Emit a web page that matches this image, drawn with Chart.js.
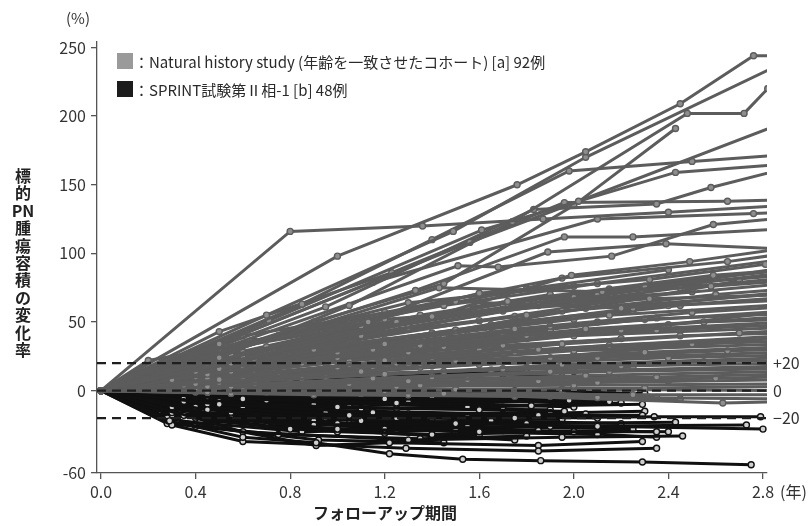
<!DOCTYPE html>
<html>
<head>
<meta charset="utf-8">
<script src="https://cdn.jsdelivr.net/npm/chart.js@4.4.1/dist/chart.umd.min.js"></script>
<style>
  html, body { margin: 0; padding: 0; background: #fff; }
  #wrap { width: 810px; height: 526px; }
</style>
</head>
<body>
<div id="wrap"><canvas id="c" width="810" height="526"></canvas></div>
<script>
// Axis ticks and labels
const xTicks = [0, 0.4, 0.8, 1.2, 1.6, 2.0, 2.4, 2.8];
const yTicks = [-60, 0, 50, 100, 150, 200, 250];
const refLevels = [20, 0, -20];
const refLabels = ['+20', '0', '\u221220'];
const legendLabels = [
  '：Natural history study (年齢を一致させたコホート) [a] 92例',
  '：SPRINT試験第Ⅱ相-1 [b] 48例'
];
const yTitleParts = ['標', '的', 'PN', '腫', '瘍', '容', '積', 'の', '変', '化', '率'];
const xTitle = 'フォローアップ期間';

// Natural history cohort: each patient as [year, % change, year, % change, ...]
const naturalHistory = [
  [0,0, 0.80,116, 1.36,120, 1.87,125, 2.40,130, 2.90,135],
  [0,0, 1.00,98, 1.76,150, 2.05,174, 2.45,209, 2.76,244, 2.90,244],
  [0,0, 0.70,55, 1.49,116, 2.05,170, 2.90,240],
  [0,0, 0.50,24, 1.05,62, 1.74,123, 2.48,202, 2.72,202, 2.82,220],
  [0,0, 0.50,34, 1.56,108, 2.02,138, 2.90,196],
  [0,0, 0.85,63, 1.40,110, 1.98,160, 2.50,167, 2.90,172],
  [0,0, 0.71,51, 1.61,117, 2.43,159, 2.90,165],
  [0,0, 0.95,61, 1.83,132, 2.35,136, 2.58,148, 2.90,162],
  [0,0, 0.50,43, 1.23,86, 1.96,137, 2.65,138, 2.90,139],
  [0,0, 1.15,79, 2.10,125, 2.76,129, 2.90,130],
  [0,0, 1.33,73, 1.96,112, 2.25,112, 2.90,118],
  [0,0, 1.51,91, 1.68,90, 2.16,98, 2.59,121, 2.90,126],
  [0,0, 0.20,22, 1.13,50, 1.89,101, 2.39,107, 2.90,103],
  [0,0, 1.40,54, 1.99,84, 2.49,94, 2.90,104],
  [0,0, 1.60,71, 2.32,81, 2.81,92, 2.90,95],
  [0,0, 1.72,65, 2.59,84, 2.90,88],
  [0,0, 1.43,75, 2.12,72, 2.58,76, 2.90,80],
  [0,0, 1.20,52, 2.32,67, 2.90,70],
  [0,0, 0.60,40, 1.50,65, 2.20,60, 2.90,72],
  [0,0, 0.90,50, 1.45,78, 2.00,135, 2.43,191],
  [0,0, 0.45,18, 1.10,40, 1.85,62, 2.90,90],
  [0,0, 0.55,20, 1.30,46, 2.10,70, 2.90,86],
  [0,0, 0.40,14, 0.95,36, 1.70,58, 2.45,75, 2.90,82],
  [0,0, 0.60,25, 1.25,50, 2.00,64, 2.90,78],
  [0,0, 0.35,15, 1.05,38, 1.80,55, 2.60,70, 2.90,74],
  [0,0, 0.50,16, 1.20,34, 1.95,58, 2.90,71],
  [0,0, 0.75,28, 1.50,44, 2.25,60, 2.90,68],
  [0,0, 0.30,8, 0.90,30, 1.65,48, 2.40,62, 2.90,66],
  [0,0, 0.65,22, 1.40,42, 2.15,55, 2.90,63],
  [0,0, 0.50,20, 1.00,28, 1.75,45, 2.50,57, 2.90,61],
  [0,0, 0.45,12, 1.15,30, 1.90,47, 2.90,58],
  [0,0, 0.80,26, 1.55,40, 2.30,52, 2.90,56],
  [0,0, 0.55,14, 1.35,33, 2.05,45, 2.90,54],
  [0,0, 0.40,10, 1.00,24, 1.80,40, 2.55,50, 2.90,52],
  [0,0, 0.70,18, 1.45,32, 2.20,44, 2.90,50],
  [0,0, 0.35,11, 0.85,20, 1.60,36, 2.35,44, 2.90,48],
  [0,0, 0.60,16, 1.30,28, 2.00,40, 2.90,46],
  [0,0, 0.50,8, 1.20,22, 1.95,34, 2.70,42, 2.90,44],
  [0,0, 0.90,22, 1.70,33, 2.45,40, 2.90,42],
  [0,0, 0.45,9, 1.05,19, 1.85,30, 2.90,40],
  [0,0, 0.65,12, 1.40,24, 2.15,33, 2.90,38],
  [0,0, 0.30,6, 1.00,17, 1.75,28, 2.50,34, 2.90,36],
  [0,0, 0.55,10, 1.25,20, 2.00,29, 2.90,34],
  [0,0, 0.75,13, 1.50,22, 2.30,28, 2.90,32],
  [0,0, 0.40,5, 1.10,14, 1.90,24, 2.65,29, 2.90,30],
  [0,0, 0.60,9, 1.35,17, 2.10,24, 2.90,28],
  [0,0, 0.85,11, 1.60,19, 2.40,24, 2.90,26],
  [0,0, 0.50,6, 1.20,12, 1.95,19, 2.90,24],
  [0,0, 0.35,4, 0.95,10, 1.70,16, 2.55,21, 2.90,22],
  [0,0, 0.70,8, 1.45,14, 2.20,18, 2.90,20],
  [0,0, 0.45,3, 1.15,9, 1.90,14, 2.90,18],
  [0,0, 0.65,5, 1.40,10, 2.15,14, 2.90,16],
  [0,0, 0.55,3, 1.30,7, 2.05,11, 2.90,14],
  [0,0, 0.80,6, 1.55,8, 2.35,10, 2.90,12],
  [0,0, 0.40,2, 1.05,5, 1.85,7, 2.60,9, 2.90,10],
  [0,0, 0.60,3, 1.35,4, 2.10,6, 2.90,8],
  [0,0, 0.50,1, 1.25,3, 2.00,4, 2.90,5],
  [0,0, 0.75,2, 1.50,1, 2.30,2, 2.90,3],
  [0,0, 0.45,-1, 1.20,0, 1.95,1, 2.90,0],
  [0,0, 0.65,0, 1.45,-2, 2.25,-3, 2.90,-3],
  [0,0, 0.55,-2, 1.30,-3, 2.10,-5, 2.90,-6],
  [0,0, 0.90,-3, 1.75,-4, 2.63,-9, 2.90,-8],
  [0,0, 0.40,-1, 1.10,-2, 1.90,-4, 2.45,-6],
  [0,0, 0.50,4, 1.20,2, 1.95,-2, 2.35,-5],
  [0,0, 0.45,10, 1.05,22, 1.70,35, 2.30,46],
  [0,0, 0.55,18, 1.20,30, 1.90,44],
  [0,0, 0.35,9, 0.95,20, 1.60,30, 2.20,38],
  [0,0, 0.60,14, 1.25,25, 1.85,32],
  [0,0, 0.50,6, 1.15,15, 1.80,21, 2.40,27],
  [0,0, 0.70,12, 1.40,18, 2.05,22],
  [0,0, 0.40,7, 1.00,12, 1.65,15, 2.25,17],
  [0,0, 0.55,4, 1.25,8, 1.95,10],
  [0,0, 0.45,2, 1.10,4, 1.75,6, 2.40,7],
  [0,0, 0.65,20, 1.30,38, 2.00,52],
  [0,0, 0.50,12, 1.10,28, 1.70,41, 2.35,53],
  [0,0, 0.30,10, 0.85,24, 1.45,39, 2.10,50],
  [0,0, 0.60,22, 1.20,37, 1.80,50, 2.45,62],
  [0,0, 0.40,16, 1.00,30, 1.65,46, 2.25,58],
  [0,0, 0.55,26, 1.15,42, 1.75,54],
  [0,0, 0.45,20, 1.05,36, 1.60,51, 2.20,66],
  [0,0, 0.70,32, 1.35,52, 2.00,68, 2.55,78],
  [0,0, 0.35,12, 0.90,26, 1.50,44, 2.05,60, 2.70,80],
  [0,0, 0.60,28, 1.25,47, 1.85,64, 2.50,72],
  [0,0, 0.50,30, 1.10,47, 1.70,63, 2.30,76, 2.90,84],
  [0,0, 0.40,21, 0.95,42, 1.55,60, 2.15,74, 2.90,88],
  [0,0, 0.75,40, 1.45,62, 2.10,78, 2.90,96],
  [0,0, 0.55,33, 1.20,57, 1.95,82, 2.65,94, 2.90,100],
  [0,0, 0.45,26, 1.05,50, 1.80,74, 2.40,88],
  [0,0, 0.65,36, 1.30,64, 2.00,76],
  [0,0, 0.25,16, 0.80,34, 1.35,55, 1.90,70],
  [0,0, 0.50,14, 1.15,26, 1.80,38, 2.40,48, 2.90,58],
  [0,0, 0.60,8, 1.30,18, 2.00,26, 2.70,36]
];

// SPRINT phase II stratum 1: each patient as [year, % change, ...]
const sprintPhase2 = [
  [0,0, 0.29,-22, 0.60,-34, 0.91,-38, 1.22,-46, 1.53,-50, 1.86,-51, 2.29,-52, 2.75,-54],
  [0,0, 0.30,-25, 0.60,-37, 1.29,-42, 1.85,-44, 2.35,-42],
  [0,0, 0.28,-20, 0.91,-40, 1.22,-38, 1.85,-40, 2.29,-37],
  [0,0, 0.60,-30, 1.30,-36, 1.95,-34, 2.46,-33],
  [0,0, 0.35,-18, 1.00,-28, 1.60,-30, 2.35,-30],
  [0,0, 0.30,-16, 0.90,-25, 1.50,-24, 2.10,-26, 2.80,-28],
  [0,0, 0.55,-20, 1.20,-28, 1.90,-26, 2.73,-25],
  [0,0, 0.45,-14, 1.10,-22, 1.80,-24, 2.43,-23],
  [0,0, 0.40,-12, 1.05,-18, 1.75,-20, 2.34,-19, 2.79,-19],
  [0,0, 0.50,-10, 1.15,-16, 1.85,-18, 2.29,-18],
  [0,0, 0.35,-8, 1.00,-12, 1.60,-14, 1.96,-15],
  [0,0, 0.60,-6, 1.25,-9, 1.82,-11],
  [0,0, 0.45,-4, 1.20,-6, 1.98,-7, 2.32,-5],
  [0,0, 0.50,-5, 1.30,-8, 2.15,-8],
  [0,0, 0.70,-7, 1.55,-12, 2.29,-10],
  [0,0, 0.30,-18, 0.80,-28, 1.40,-32, 2.00,-30],
  [0,0, 0.28,-24, 0.75,-32, 1.35,-35, 1.80,-33],
  [0,0, 0.32,-22, 0.85,-30, 1.50,-28],
  [0,0, 0.40,-20, 1.00,-24, 1.65,-22, 2.20,-24],
  [0,0, 0.55,-16, 1.25,-20, 1.95,-21],
  [0,0, 0.30,-12, 0.95,-16, 1.55,-19, 2.10,-20],
  [0,0, 0.45,-10, 1.10,-13, 1.70,-12],
  [0,0, 0.60,-12, 1.35,-18, 2.05,-17],
  [0,0, 0.35,-6, 0.90,-10, 1.45,-9, 2.00,-12],
  [0,0, 0.50,-2, 1.20,-4, 1.90,-3],
  [0,0, 0.40,2, 1.00,4, 1.60,6],
  [0,0, 0.55,4, 1.30,8, 1.95,10],
  [0,0, 0.30,3, 0.85,8, 1.45,12, 2.00,14],
  [0,0, 0.65,6, 1.35,11, 1.80,16],
  [0,0, 0.50,1, 1.15,2, 1.75,0, 2.30,-2],
  [0,0, 0.30,-14, 0.90,-22, 1.50,-30, 2.10,-32],
  [0,0, 0.45,-22, 1.00,-30, 1.60,-33],
  [0,0, 0.25,-15, 0.70,-26, 1.25,-29, 1.85,-29],
  [0,0, 0.35,-10, 0.95,-20, 1.55,-26, 2.25,-28],
  [0,0, 0.60,-24, 1.20,-31, 1.75,-36],
  [0,0, 0.50,-18, 1.05,-24, 1.60,-27, 2.35,-34],
  [0,0, 0.40,-16, 0.95,-21, 1.50,-23],
  [0,0, 0.30,-9, 0.80,-14, 1.30,-17, 1.90,-16],
  [0,0, 0.55,-13, 1.15,-15, 1.70,-17, 2.30,-15],
  [0,0, 0.45,-7, 1.05,-10, 1.65,-11, 2.20,-9],
  [0,0, 0.70,-3, 1.40,-5, 2.00,-6],
  [0,0, 0.35,-3, 0.95,-6, 1.50,-7],
  [0,0, 0.60,-9, 1.25,-13, 1.90,-14],
  [0,0, 0.40,-26, 0.92,-36, 1.45,-38],
  [0,0, 0.50,-19, 1.10,-26, 1.70,-29, 2.40,-30],
  [0,0, 0.28,-11, 0.80,-18, 1.40,-21],
  [0,0, 0.65,-1, 1.35,-1, 2.05,-2],
  [0,0, 0.45,5, 1.10,8, 1.70,12, 2.20,9]
];

const FONT = '"Noto Sans CJK JP", "Noto Sans", sans-serif';
const GRAY = '#5c5c5c';
const BLACK = '#101010';

function toPoints(flat) {
  const pts = [];
  for (let i = 0; i < flat.length; i += 2) pts.push({ x: flat[i], y: flat[i + 1] });
  return pts;
}

function patientSet(flat, color, fill) {
  return {
    data: toPoints(flat),
    showLine: true,
    borderColor: color,
    borderWidth: 3,
    pointRadius: 3,
    pointBorderWidth: 1.4,
    pointBorderColor: color,
    pointBackgroundColor: ctx => (ctx.dataIndex === 0 ? color : fill),
    pointHoverRadius: 0,
    tension: 0
  };
}

// grey cohort listed first so it is painted over the SPRINT lines
const datasets = [
  ...naturalHistory.map(p => patientSet(p, GRAY, '#8e8e8e')),
  ...sprintPhase2.map(p => patientSet(p, BLACK, '#cfcfcf'))
];

const decorations = {
  id: 'decorations',
  afterDatasetsDraw(chart) {
    const { ctx, chartArea: a, scales: { x, y } } = chart;
    ctx.save();
    // reference lines at +20, 0, -20
    ctx.strokeStyle = '#1e1e1e';
    ctx.lineWidth = 2.2;
    ctx.setLineDash([9, 6]);
    refLevels.forEach(v => {
      const py = y.getPixelForValue(v);
      ctx.beginPath();
      ctx.moveTo(a.left, py);
      ctx.lineTo(a.right, py);
      ctx.stroke();
    });
    ctx.setLineDash([]);

    ctx.fillStyle = '#333';
    ctx.textBaseline = 'middle';
    ctx.textAlign = 'left';
    ctx.font = '16px ' + FONT;
    refLevels.forEach((v, i) => ctx.fillText(refLabels[i], a.right + 6, y.getPixelForValue(v)));

    // unit labels
    ctx.font = '15px ' + FONT;
    ctx.textAlign = 'center';
    ctx.fillText('(%)', 78, 18);
    ctx.textAlign = 'left';
    ctx.font = '16px ' + FONT;
    ctx.fillText('(年)', x.getPixelForValue(2.8) + 17, 492);

    // legend
    const sw = [['#9a9a9a', 61], ['#1c1c1c', 89]];
    sw.forEach(([c, cy], i) => {
      ctx.fillStyle = c;
      ctx.fillRect(117, cy - 8, 16, 16);
      ctx.fillStyle = '#2a2a2a';
      ctx.font = '15px ' + FONT;
      ctx.fillText(legendLabels[i], 134, cy + 1);
    });

    // axis titles
    ctx.fillStyle = '#222';
    ctx.font = 'bold 16px ' + FONT;
    ctx.textAlign = 'center';
    yTitleParts.forEach((ch, i) => ctx.fillText(ch, 23, 176 + i * 17.4));
    ctx.fillText(xTitle, 385, 513);
    ctx.restore();
  }
};

new Chart(document.getElementById('c'), {
  type: 'scatter',
  data: { datasets },
  plugins: [decorations],
  options: {
    responsive: false,
    animation: false,
    events: [],
    layout: { padding: { top: 42, right: 43, bottom: 0, left: 0 } },
    plugins: { legend: { display: false }, tooltip: { enabled: false } },
    scales: {
      x: {
        type: 'linear',
        min: -0.017,
        max: 2.817,
        afterBuildTicks: s => { s.ticks = xTicks.map(v => ({ value: v })); },
        afterFit: s => { s.height = 53; },
        ticks: {
          color: '#333',
          font: { family: FONT, size: 16 },
          padding: 3,
          maxRotation: 0,
          autoSkip: false,
          callback: v => Number(v).toFixed(1)
        },
        grid: { drawOnChartArea: false, drawTicks: true, tickLength: 6, color: '#555', lineWidth: 1.3 },
        border: { display: true, color: '#555', width: 1.3 }
      },
      y: {
        min: -60,
        max: 254,
        afterBuildTicks: s => { s.ticks = yTicks.map(v => ({ value: v })); },
        afterFit: s => { s.width = 97; },
        ticks: {
          color: '#333',
          font: { family: FONT, size: 16 },
          padding: 5,
          autoSkip: false,
          callback: v => String(v)
        },
        grid: { drawOnChartArea: false, drawTicks: true, tickLength: 6, color: '#555', lineWidth: 1.3 },
        border: { display: true, color: '#555', width: 1.3 }
      }
    }
  }
});
</script>
</body>
</html>
